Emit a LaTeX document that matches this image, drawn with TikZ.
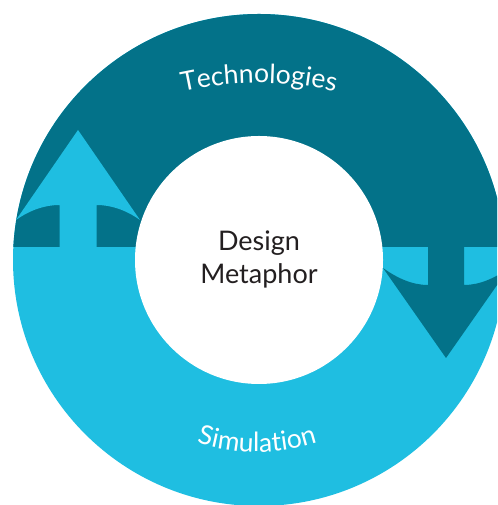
\documentclass[tikz,border=0pt]{standalone}
\usepackage{fontspec}
\setmainfont{Lato}
\usetikzlibrary{decorations.text}
\definecolor{techteal}{RGB}{3,114,137}
\definecolor{simcyan}{RGB}{31,190,225}
\definecolor{inktext}{RGB}{35,31,32}

\begin{document}
\begin{tikzpicture}[x=1pt, y=1pt, line join=round,
	darkpart/.style={fill=techteal},
	lightpart/.style={fill=simcyan},
	arctext/.style={decorate, decoration={text along path, text align=center}}]
	
	\useasboundingbox (0,0) rectangle (497,505);
	\clip (0,0) rectangle (497,505);
	\coordinate (c) at (259,245);
	
	%========================
	% Ring: light lower part, dark upper part
	%========================
	\fill[lightpart] (c) circle (246);
	\begin{scope}
		\clip (c) circle (246);
		\fill[darkpart] (0,258) rectangle (510,505);
		% left arrow (pointing up)
		\fill[lightpart] (59.5,258) -- (59.5,300)
		.. controls (45,300) and (30,295) .. (16,285) -- (78,375) -- (140,285)
		.. controls (126,295) and (111,300) .. (96.5,300) -- (96.5,258) -- cycle;
		% right arrow (pointing down)
		\fill[darkpart] (428,258) -- (428,220)
		.. controls (412,220) and (397,227) .. (383,237) -- (446,147) -- (509,237)
		.. controls (495,227) and (480,220) .. (464,220) -- (464,258) -- cycle;
	\end{scope}
	\fill[white] (c) circle (124);
	
	%========================
	% Labels
	%========================
	\node[font=\fontsize{27}{33}\selectfont, text=inktext, align=center] (metaphor) at (259,246) {Design\\Metaphor};
	
	% curved ring labels
	\path[arctext, decoration={text={|\color{white}\fontsize{26.5}{26}\selectfont|Technologies}}]
	(259,72) ++(120:350) arc[start angle=120, end angle=60, radius=350];
	\path[arctext, decoration={text={|\color{white}\fontsize{26.5}{26}\selectfont|Simulation}}]
	(257,253) ++(240:200) arc[start angle=240, end angle=300, radius=200];
	
\end{tikzpicture}
\end{document}
